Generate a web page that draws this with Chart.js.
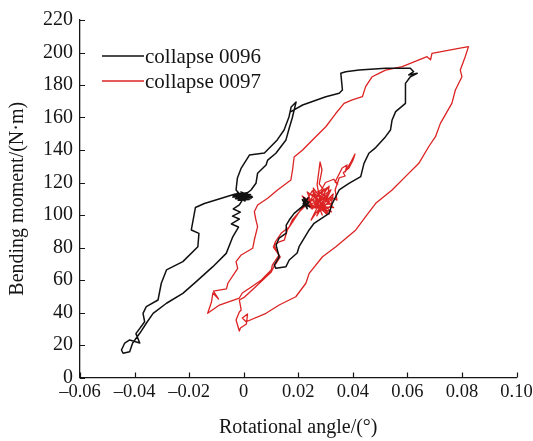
<!DOCTYPE html>
<html>
<head>
<meta charset="utf-8">
<title>Moment-rotation hysteresis</title>
<script src="https://cdn.jsdelivr.net/npm/chart.js@4.4.1/dist/chart.umd.min.js"></script>
<style>
  html, body { margin: 0; padding: 0; background: #fff; }
</style>
</head>
<body>
<canvas id="hysteresis" width="533" height="441"></canvas>
<script>
// axis ticks
const xTicks = [-0.06, -0.04, -0.02, 0, 0.02, 0.04, 0.06, 0.08, 0.10];
const xTickLabels = ['\u20130.06', '\u20130.04', '\u20130.02', '0', '0.02', '0.04', '0.06', '0.08', '0.10'];
const yTicks = [0, 20, 40, 60, 80, 100, 120, 140, 160, 180, 200, 220];

// collapse 0096: rotation (deg) and bending moment (N·m), in recorded order
const angle0096 = [
  -0.0005, -0.0028, -0.0023, -0.0009, 0.0021, 0.0076, 0.0123, 0.0148, 0.0166, 0.0174, 0.0192,
  0.0185, 0.0178, 0.0167, 0.0155, 0.0118, 0.0088, 0.0082, 0.0051, 0.0045, 0.0027, 0.0003,
  -0.0040, 0.0030, -0.0035, 0.0028, -0.0030, 0.0025, -0.0025, 0.0020, -0.0020, 0.0015,
  -0.0038, 0.0032, -0.0010, 0.0005, -0.0034, 0.0024, -0.0005,
  -0.0016, -0.0038, -0.0012, -0.0041, -0.0016, -0.0045, -0.0019, -0.0040, -0.0064, -0.0113,
  -0.0174, -0.0223, -0.0283, -0.0332, -0.0357, -0.0381, -0.0407, -0.0418, -0.0442, -0.0448,
  -0.0436, -0.0418, -0.0381, -0.0395,
  -0.0363, -0.0369, -0.0357, -0.0314, -0.0302, -0.0283, -0.0223, -0.0168, -0.0164, -0.0192,
  -0.0177, -0.0144, -0.0031, -0.0005,
  0.0027, 0.0045, 0.0051, 0.0082, 0.0088, 0.0118, 0.0155, 0.0167, 0.0178, 0.0185,
  0.0173, 0.0216, 0.0301, 0.0350, 0.0362, 0.0356, 0.0374, 0.0423, 0.0520, 0.0611,
  0.0623, 0.0605, 0.0636, 0.0611,
  0.0593, 0.0593, 0.0557, 0.0544, 0.0538, 0.0520, 0.0484, 0.0459, 0.0441, 0.0429,
  0.0386, 0.0350, 0.0325, 0.0313, 0.0258, 0.0240, 0.0203, 0.0196, 0.0167, 0.0155,
  0.0118, 0.0112, 0.0130, 0.0119, 0.0130, 0.0156, 0.0156, 0.0167, 0.0185, 0.0222,
  0.0240, 0.0212, 0.0236, 0.0218, 0.0242, 0.0215, 0.0233, 0.0220, 0.0238, 0.0225
];
const moment0096 = [
  111.1, 115.4, 122.8, 128.9, 136.9, 138.1, 146.2, 152.3, 160.3, 166.5, 169.5,
  164.6, 159.7, 153.5, 146.2, 138.0, 133.8, 130.8, 125.7, 119.5, 115.4, 112.3,
  111.0, 111.5, 112.3, 110.4, 110.0, 112.6, 113.3, 109.5, 109.0, 113.8,
  111.8, 110.9, 114.2, 108.6, 112.6, 110.0, 109.2,
  106.2, 103.7, 101.8, 99.3, 97.5, 94.5, 92.6, 86.6, 76.4, 68.2,
  59.0, 51.8, 45.7, 39.5, 33.4, 27.2, 21.2, 15.9, 14.9, 16.9,
  21.2, 23.1, 21.2, 27.0,
  34.3, 39.5, 43.6, 47.7, 58.0, 66.2, 71.3, 80.5, 88.7, 90.8,
  104.6, 107.1, 112.9, 111.1,
  115.4, 119.5, 125.7, 130.8, 133.8, 138.0, 146.2, 153.5, 159.7, 164.6,
  163.6, 167.7, 172.8, 174.9, 176.9, 187.2, 188.2, 189.2, 190.3, 190.3,
  188.2, 186.2, 187.2, 185.1,
  181.0, 168.7, 163.6, 158.5, 152.3, 148.2, 141.5, 138.0, 131.8, 123.6,
  119.5, 115.4, 107.2, 101.0, 94.9, 90.8, 80.5, 76.6, 72.3, 68.2,
  67.2, 69.2, 74.2, 81.5, 85.8, 88.9, 93.8, 96.9, 101.0, 106.2,
  108.0, 104.5, 110.5, 107.0, 105.0, 109.5, 103.8, 110.8, 107.5, 105.5
];

// collapse 0097
const angle0097 = [
  0.0225, 0.0214, 0.0247, 0.0233, 0.0262, 0.0255, 0.0277, 0.0269, 0.0280, 0.0287,
  0.0277, 0.0298, 0.0313, 0.0306, 0.0328, 0.0320, 0.0295, 0.0313, 0.0284, 0.0262,
  0.0247, 0.0269, 0.0240, 0.0255, 0.0284, 0.0300, 0.0330, 0.0345, 0.0335, 0.0361,
  0.0379, 0.0372, 0.0393, 0.0408, 0.0401, 0.0386, 0.0365, 0.0372, 0.0350, 0.0335,
  0.0342, 0.0317, 0.0302, 0.0277, 0.0251, 0.0229, 0.0240, 0.0300, 0.0255, 0.0318,
  0.0245, 0.0310, 0.0270, 0.0325, 0.0250, 0.0295, 0.0265, 0.0330, 0.0280, 0.0305,
  0.0258, 0.0320, 0.0285, 0.0275, 0.0312, 0.0248, 0.0292, 0.0268, 0.0300, 0.0238,
  0.0322, 0.0278, 0.0308, 0.0262, 0.0288, 0.0252, 0.0203,
  0.0160, 0.0149, 0.0130, 0.0112, 0.0119, 0.0130, 0.0105, 0.0101, 0.0065, 0.0028,
  -0.0005, -0.0016, -0.0089, -0.0132,
  -0.0118, -0.0113, -0.0092, -0.0111, -0.0063, -0.0058, -0.0022, -0.0028, -0.0009, 0.0033,
  0.0039, 0.0051, 0.0045, 0.0039, 0.0051, 0.0088, 0.0124, 0.0173, 0.0179, 0.0185,
  0.0216, 0.0264, 0.0301, 0.0338, 0.0368, 0.0398, 0.0435, 0.0447, 0.0471, 0.0496,
  0.0520, 0.0581, 0.0672, 0.0685, 0.0690, 0.0788, 0.0824,
  0.0812, 0.0794, 0.0800, 0.0776, 0.0763, 0.0721, 0.0703, 0.0678, 0.0642, 0.0593,
  0.0544, 0.0484, 0.0447, 0.0411, 0.0338, 0.0289, 0.0240, 0.0228, 0.0191, 0.0130,
  0.0082, 0.0009, -0.0005, 0.0014, 0.0010, -0.0012, -0.0016, -0.0028, -0.0016,
  -0.0009, -0.0016, 0.0003, 0.0039, 0.0101, 0.0112, 0.0134, 0.0109, 0.0116, 0.0138,
  0.0167, 0.0178, 0.0203, 0.0240, 0.0262, 0.0290
];
const moment0097 = [
  109.2, 111.7, 108.0, 114.2, 110.5, 116.6, 111.7, 118.5, 132.6, 127.7,
  119.1, 114.2, 117.8, 109.2, 112.9, 105.5, 103.1, 100.6, 105.5, 100.6,
  96.9, 104.3, 105.5, 112.9, 115.4, 120.0, 122.0, 119.0, 120.3, 128.9,
  130.8, 126.5, 132.6, 137.5, 133.8, 128.9, 126.0, 124.0, 122.8, 115.4,
  109.2, 111.1, 106.2, 108.0, 103.7, 107.4, 110.0, 104.0, 113.5, 107.0,
  104.5, 113.0, 101.5, 110.0, 109.0, 116.0, 105.5, 104.5, 112.0, 100.5,
  107.5, 115.5, 103.0, 114.5, 109.5, 112.5, 106.5, 99.5, 111.0, 106.0,
  102.0, 108.5, 117.0, 111.0, 100.0, 115.0, 101.8,
  90.8, 84.6, 83.4, 81.5, 78.5, 75.4, 69.2, 66.2, 60.0, 55.7,
  52.0, 48.9, 44.6, 39.5,
  46.5, 52.0, 48.3, 53.2, 54.5, 58.0, 67.2, 71.3, 75.4, 79.5,
  84.6, 92.8, 96.9, 102.0, 106.2, 110.3, 115.4, 121.5, 127.7, 135.7,
  140.0, 148.2, 154.3, 162.6, 168.7, 170.8, 172.8, 179.0, 185.1, 187.2,
  189.2, 191.3, 197.4, 195.5, 199.5, 202.6, 203.6,
  197.4, 189.2, 185.1, 176.9, 168.7, 156.4, 148.2, 142.0, 131.8, 123.6,
  115.4, 107.2, 99.0, 90.8, 80.5, 74.3, 64.1, 58.0, 49.7, 44.6,
  39.5, 34.3, 36.6, 39.1, 32.9, 30.5, 28.6, 35.4, 40.3,
  41.5, 47.7, 49.5, 55.1, 64.9, 68.6, 74.2, 80.3, 83.4, 88.9,
  92.6, 96.9, 101.8, 108.0, 104.3, 110.5
];

const serif = "'Liberation Serif', 'Times New Roman', serif";
const ink = '#151515';

function toPoints(xs, ys) {
  return xs.map((x, i) => ({ x: x, y: ys[i] }));
}

// short tick marks pointing into the plot
const innerTicks = {
  id: 'innerTicks',
  afterDraw(chart) {
    const { ctx, chartArea, scales } = chart;
    ctx.save();
    ctx.strokeStyle = ink;
    ctx.lineWidth = 1.2;
    ctx.beginPath();
    scales.x.ticks.forEach(t => {
      const px = Math.round(scales.x.getPixelForValue(t.value)) + 0.5;
      ctx.moveTo(px, chartArea.bottom);
      ctx.lineTo(px, chartArea.bottom - 5);
    });
    scales.y.ticks.forEach(t => {
      const py = Math.round(scales.y.getPixelForValue(t.value)) + 0.5;
      ctx.moveTo(chartArea.left, py);
      ctx.lineTo(chartArea.left + 5, py);
    });
    ctx.stroke();
    ctx.restore();
  }
};

// legend sitting in the upper-left corner of the plot
const cornerLegend = {
  id: 'cornerLegend',
  afterDatasetsDraw(chart) {
    const { ctx, chartArea } = chart;
    ctx.save();
    ctx.font = '21px ' + serif;
    ctx.textBaseline = 'middle';
    chart.data.datasets.forEach((ds, i) => {
      const y = chartArea.top + 36 + i * 25;
      const x0 = chartArea.left + 22;
      ctx.strokeStyle = ds.borderColor;
      ctx.lineWidth = ds.borderWidth;
      ctx.beginPath();
      ctx.moveTo(x0, y);
      ctx.lineTo(x0 + 42, y);
      ctx.stroke();
      ctx.fillStyle = ink;
      ctx.fillText(ds.label, x0 + 43, y + 1);
    });
    ctx.restore();
  }
};

new Chart(document.getElementById('hysteresis'), {
  type: 'scatter',
  data: {
    datasets: [
      {
        label: 'collapse 0096',
        data: toPoints(angle0096, moment0096),
        showLine: true,
        borderColor: '#111111',
        borderWidth: 1.5,
        borderJoinStyle: 'round',
        pointRadius: 0,
        tension: 0
      },
      {
        label: 'collapse 0097',
        data: toPoints(angle0097, moment0097),
        showLine: true,
        borderColor: '#dc2323',
        borderWidth: 1.3,
        borderJoinStyle: 'round',
        pointRadius: 0,
        tension: 0
      }
    ]
  },
  options: {
    responsive: false,
    animation: false,
    events: [],
    layout: { padding: { top: 20, right: 0, bottom: 0, left: 0 } },
    plugins: {
      legend: { display: false },
      tooltip: { enabled: false }
    },
    scales: {
      x: {
        type: 'linear',
        min: -0.06,
        max: 0.10,
        afterBuildTicks: s => { s.ticks = xTicks.map(v => ({ value: v })); },
        afterFit: s => { s.height = 63.5; s.paddingLeft = 0; s.paddingRight = 16.5; },
        grid: { drawOnChartArea: false, drawTicks: false },
        border: { color: ink, width: 1.3 },
        ticks: {
          color: ink,
          padding: 4,
          maxRotation: 0,
          autoSkip: false,
          font: { family: serif, size: 18.5 },
          callback: (v, i) => xTickLabels[i]
        },
        title: {
          display: true,
          text: 'Rotational angle/(\u00b0)',
          color: ink,
          font: { family: serif, size: 20 },
          padding: { top: 0, bottom: 1 }
        }
      },
      y: {
        type: 'linear',
        min: 0,
        max: 220,
        afterBuildTicks: s => { s.ticks = yTicks.map(v => ({ value: v })); },
        afterFit: s => { s.width = 80; },
        grid: { drawOnChartArea: false, drawTicks: false },
        border: { color: ink, width: 1.3 },
        ticks: {
          color: ink,
          padding: 7,
          autoSkip: false,
          font: { family: serif, size: 20 }
        },
        title: {
          display: true,
          text: 'Bending moment/(N\u00b7m)',
          color: ink,
          font: { family: serif, size: 20 },
          padding: { top: 6, bottom: 0 }
        }
      }
    }
  },
  plugins: [innerTicks, cornerLegend]
});
</script>
</body>
</html>
